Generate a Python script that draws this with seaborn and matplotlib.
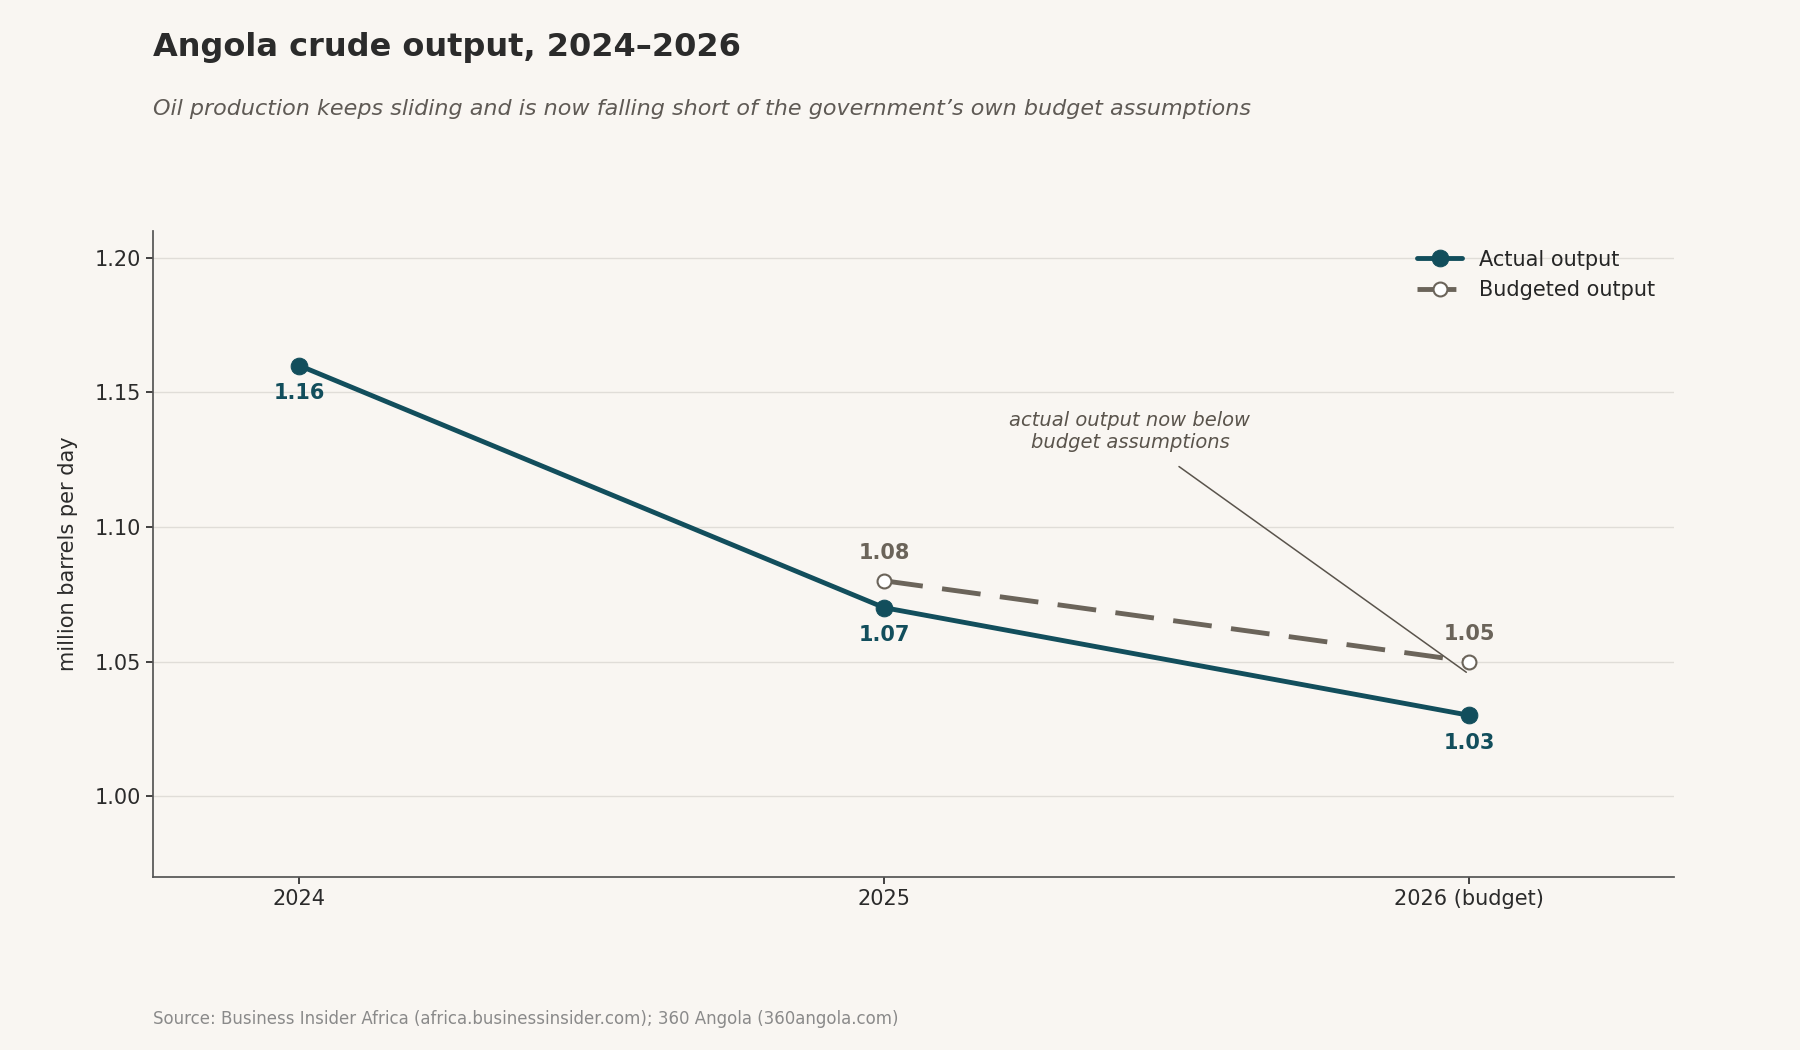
import matplotlib
matplotlib.use("Agg")
import matplotlib.pyplot as plt
import seaborn as sns
import pandas as pd

# data
years = ["2024", "2025", "2026 (budget)"]
actual = [1.16, 1.07, 1.03]
budget_years = ["2025", "2026 (budget)"]
budget = [1.08, 1.05]

BG = "#f9f6f2"
TEAL = "#124e5c"
GREY = "#6b645a"

sns.set_theme(style="white")
plt.rcParams['font.family'] = ['DejaVu Sans']

fig = plt.figure(figsize=(18, 10.5), dpi=100, facecolor=BG)
ax = fig.add_axes([0.085, 0.165, 0.845, 0.615], facecolor=BG)

xa = list(range(len(years)))
xb = [years.index(y) for y in budget_years]
df_a = pd.DataFrame({"x": xa, "y": actual})
df_b = pd.DataFrame({"x": xb, "y": budget})

sns.lineplot(data=df_a, x="x", y="y", ax=ax, color=TEAL, lw=3.5, marker="o",
             markersize=12, markeredgecolor=TEAL, label="Actual output", zorder=3)
sns.lineplot(data=df_b, x="x", y="y", ax=ax, color=GREY, lw=3.5, marker="o",
             markersize=10, markerfacecolor="white", markeredgecolor=GREY,
             markeredgewidth=1.5, label="Budgeted output", zorder=2)
ax.lines[1].set_dashes([8, 4])

for x, v in zip(xa, actual):
    ax.annotate(f"{v:.2f}", (x, v), xytext=(0, -20), textcoords="offset points",
                ha="center", va="center", color=TEAL, fontsize=15, fontweight="bold")
for x, v in zip(xb, budget):
    ax.annotate(f"{v:.2f}", (x, v), xytext=(0, 20), textcoords="offset points",
                ha="center", va="center", color=GREY, fontsize=15, fontweight="bold")

ax.annotate("actual output now below\nbudget assumptions", xy=(1.995, 1.046),
            xytext=(1.42, 1.1355), ha="center", va="center", fontsize=14,
            style="italic", color="#5a544c",
            arrowprops=dict(arrowstyle="-", color="#5a544c", lw=1.1,
                            shrinkA=14, shrinkB=0))

ax.set_xlim(-0.25, 2.35)
ax.set_ylim(0.97, 1.21)
ax.set_xticks(xa)
ax.set_xticklabels(years)
ax.set_yticks([1.00, 1.05, 1.10, 1.15, 1.20])
ax.set_yticklabels([f"{t:.2f}" for t in [1.00, 1.05, 1.10, 1.15, 1.20]])
ax.tick_params(labelsize=15, colors="#2b2b2b", length=5, left=True, bottom=True)
ax.set_xlabel("")
ax.set_ylabel("million barrels per day", fontsize=15, color="#2b2b2b", labelpad=12)
ax.grid(axis="y", color="#e0ddd8", lw=1)
ax.set_axisbelow(True)
for s in ["top", "right"]:
    ax.spines[s].set_visible(False)
for s in ["left", "bottom"]:
    ax.spines[s].set_color("#555555")

leg = ax.legend(loc="upper right", frameon=False, fontsize=15, handlelength=2.2)

fig.text(0.085, 0.955, "Angola crude output, 2024\u20132026", fontsize=23,
         fontweight="bold", color="#2b2b2b", va="center")
fig.text(0.085, 0.896, "Oil production keeps sliding and is now falling short of the government\u2019s own budget assumptions",
         fontsize=16, style="italic", color="#5f5a55", va="center")
fig.text(0.085, 0.03, "Source: Business Insider Africa (africa.businessinsider.com); 360 Angola (360angola.com)",
         fontsize=12, color="#8a8a8a", va="center")

fig.savefig("out.png", dpi=100, facecolor=BG)
